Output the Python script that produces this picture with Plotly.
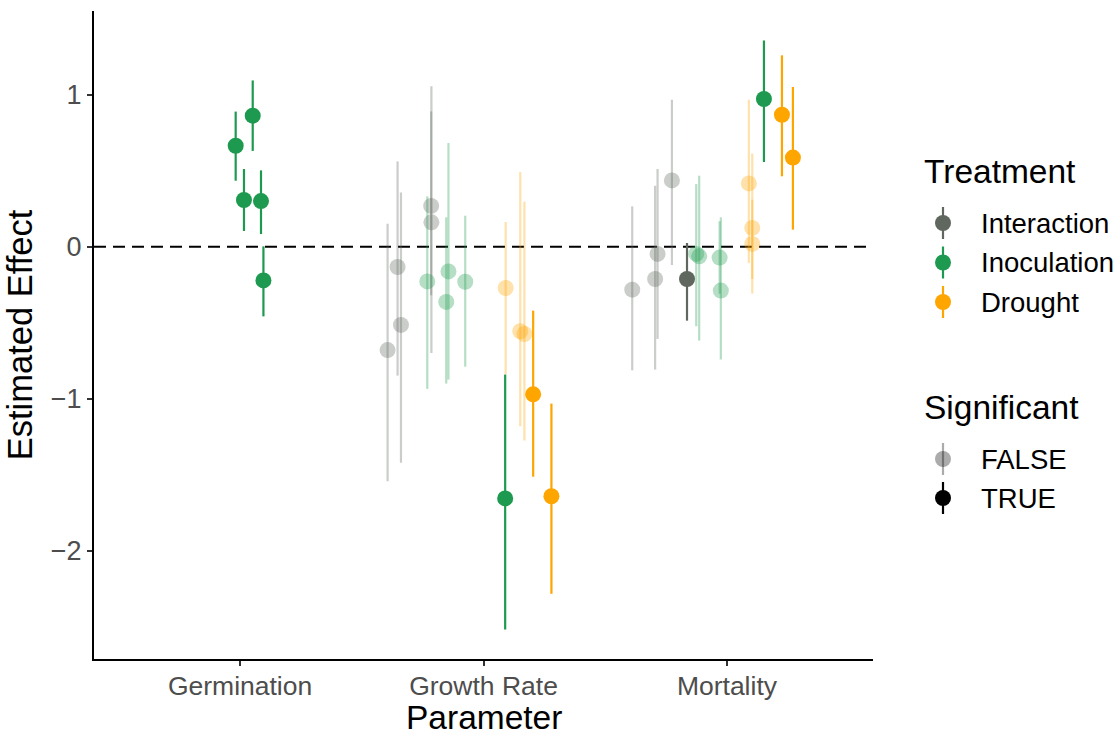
import plotly.graph_objects as go

# ---------------- data ----------------
categories = ["Germination", "Growth Rate", "Mortality"]
treatments = ["Interaction", "Inoculation", "Drought"]
sig_levels = ["FALSE", "TRUE"]

parameter = (["Germination"] * 5
             + ["Growth Rate"] * 15
             + ["Mortality"] * 15)

treatment = (["Inoculation"] * 5
             + ["Interaction"] * 5 + ["Inoculation"] * 5 + ["Drought"] * 5
             + ["Interaction"] * 5 + ["Inoculation"] * 4 + ["Drought"] * 3
             + ["Inoculation"] * 1 + ["Drought"] * 2)

significant = ([True] * 5
               + [False] * 5 + [False] * 4 + [True] + [False] * 3 + [True] * 2
               + [False] * 4 + [True] + [False] * 4 + [False] * 3 + [True] + [True] * 2)

estimate = [0.664, 0.862, 0.307, 0.300, -0.222,
            -0.681, -0.134, -0.515, 0.268, 0.160,
            -0.229, -0.163, -0.364, -0.231, -1.657,
            -0.272, -0.557, -0.575, -0.972, -1.643,
            -0.283, -0.213, -0.048, 0.436, -0.213,
            -0.048, -0.064, -0.072, -0.289,
            0.416, 0.123, 0.018,
            0.972, 0.868, 0.586]

lower = [0.434, 0.630, 0.103, 0.083, -0.459,
         -1.544, -0.849, -1.423, -0.320, -0.700,
         -0.936, -0.875, -0.901, -0.790, -2.520,
         -0.840, -1.182, -1.276, -1.514, -2.285,
         -0.814, -0.809, -0.607, -0.121, -0.487,
         -0.524, -0.618, -0.310, -0.743,
         -0.107, -0.309, -0.213,
         0.557, 0.463, 0.112]

upper = [0.889, 1.094, 0.511, 0.502, 0.002,
         0.151, 0.561, 0.357, 0.890, 1.055,
         0.331, 0.682, 0.193, 0.204, -0.842,
         0.162, 0.491, 0.296, -0.421, -1.033,
         0.265, 0.401, 0.511, 0.967, 0.024,
         0.412, 0.467, 0.167, 0.193,
         0.967, 0.612, 0.309,
         1.357, 1.259, 1.051]

# horizontal jitter/dodge of each estimate within its category
jitter = [-0.018, 0.052, 0.016, 0.086, 0.096,
          -0.394, -0.353, -0.339, -0.215, -0.214,
          -0.231, -0.144, -0.153, -0.075, 0.089,
          0.091, 0.151, 0.168, 0.204, 0.279,
          -0.389, -0.295, -0.285, -0.226, -0.164,
          -0.126, -0.114, -0.030, -0.025,
          0.090, 0.104, 0.104,
          0.152, 0.226, 0.271]

# ---------------- styling ----------------
colors = {"Interaction": (95, 103, 94), "Inoculation": (29, 154, 79), "Drought": (255, 165, 0)}
alpha_false = 0.33
FONT = "Liberation Sans, Arial, Helvetica, sans-serif"

W, H = 1120, 738
ML, MR, MT, MB = 94, 247, 11, 79
PW, PH = W - ML - MR, H - MT - MB


def rgba(rgb, a):
    return "rgba(%d,%d,%d,%.3f)" % (rgb[0], rgb[1], rgb[2], a)


fig = go.Figure()

for sig in [False, True]:
    for tr in treatments:
        idx = [i for i in range(len(estimate)) if treatment[i] == tr and significant[i] == sig]
        if not idx:
            continue
        a = 1.0 if sig else alpha_false
        col = rgba(colors[tr], a)
        xs = [categories.index(parameter[i]) + jitter[i] for i in idx]
        ys = [estimate[i] for i in idx]
        fig.add_trace(go.Scatter(
            x=xs, y=ys, mode="markers",
            marker=dict(size=16, color=col, line=dict(width=0)),
            error_y=dict(type="data", symmetric=False,
                         array=[upper[i] - estimate[i] for i in idx],
                         arrayminus=[estimate[i] - lower[i] for i in idx],
                         color=col, thickness=2.2, width=0),
            showlegend=False, hoverinfo="x+y",
        ))

# zero reference line
fig.add_shape(type="line", xref="paper", yref="y", x0=0, x1=1, y0=0, y1=0,
              line=dict(color="black", width=2, dash="12px,7px"), layer="below")


# ---------------- manual legend ----------------
def px_x(px):
    return (px - ML) / PW


def px_y(py):
    return (H - MB - py) / PH


def legend_key(cx, cy, rgb, a):
    col = rgba(rgb, a)
    fig.add_shape(type="line", xref="paper", yref="paper",
                  x0=px_x(cx), x1=px_x(cx), y0=px_y(cy - 16), y1=px_y(cy + 16),
                  line=dict(color=col, width=2.2))
    fig.add_shape(type="circle", xref="paper", yref="paper",
                  xsizemode="pixel", ysizemode="pixel",
                  xanchor=px_x(cx), yanchor=px_y(cy),
                  x0=-8, x1=8, y0=-8, y1=8,
                  fillcolor=col, line=dict(width=0))


def legend_text(x, y, text, size):
    fig.add_annotation(xref="paper", yref="paper", x=px_x(x), y=px_y(y),
                       text=text, showarrow=False, xanchor="left", yanchor="middle",
                       font=dict(family=FONT, size=size, color="black"))


legend_text(922, 171, "Treatment", 33.5)
for k, tr in enumerate(treatments):
    cy = 223 + k * 39.5
    legend_key(943, cy, colors[tr], 1.0)
    legend_text(979, cy, tr, 27.5)

legend_text(922, 407, "Significant", 33.5)
for k, s in enumerate(sig_levels):
    cy = 459 + k * 39
    legend_key(943, cy, (0, 0, 0), alpha_false if s == "FALSE" else 1.0)
    legend_text(979, cy, s, 27.5)

# x-axis title (placed as text under the tick labels)
fig.add_annotation(xref="paper", yref="paper", x=0.5, y=px_y(737),
                   text="Parameter", showarrow=False, xanchor="center", yanchor="bottom",
                   borderpad=0, font=dict(family=FONT, size=33.5, color="black"))

# ---------------- axes / layout ----------------
fig.update_layout(
    width=W, height=H,
    margin=dict(l=ML, r=MR, t=MT, b=MB, autoexpand=False),
    paper_bgcolor="white", plot_bgcolor="white",
    font=dict(family=FONT),
    showlegend=False,
    xaxis=dict(
        range=[-0.6, 2.6], tickmode="array", tickvals=[0, 1, 2], ticktext=categories,
        showgrid=False, zeroline=False, showline=True, linecolor="black", linewidth=2.2,
        ticks="outside", ticklen=5, tickwidth=1.5, tickcolor="#333333",
        tickfont=dict(size=26.5, color="#4d4d4d", family=FONT),
        ticklabelstandoff=-3,
        automargin=False,
    ),
    yaxis=dict(
        range=[-2.714, 1.551], tickmode="array", tickvals=[-2, -1, 0, 1],
        showgrid=False, zeroline=False, showline=True, linecolor="black", linewidth=2.2,
        ticks="outside", ticklen=5, tickwidth=1.5, tickcolor="#333333",
        tickfont=dict(size=27, color="#4d4d4d", family=FONT),
        title=dict(text="Estimated Effect", font=dict(size=34.5, color="black", family=FONT), standoff=8),
        automargin=False,
    ),
)

fig.write_html("out.html")
